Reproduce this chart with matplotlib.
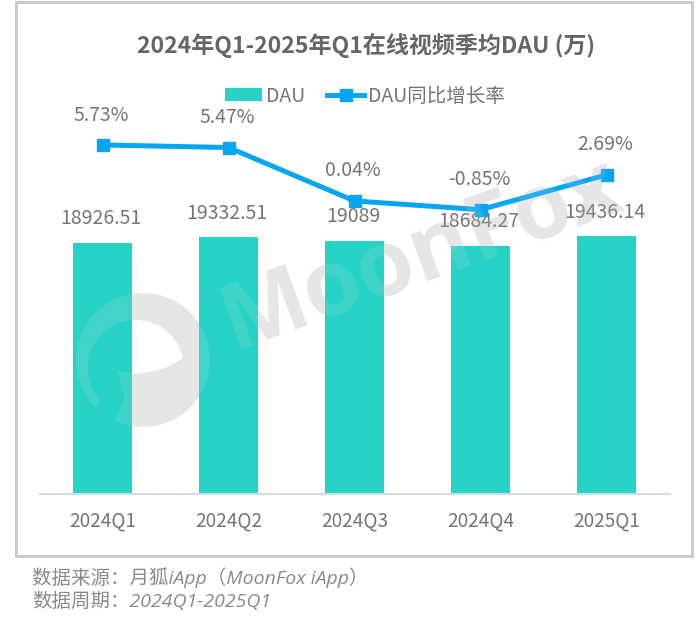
import matplotlib
matplotlib.use("Agg")
import matplotlib.pyplot as plt
import numpy as np
from matplotlib.patches import Rectangle, Polygon

plt.rcParams['font.family'] = ['Noto Sans CJK SC', 'DejaVu Sans']

categories = ['2024Q1', '2024Q2', '2024Q3', '2024Q4', '2025Q1']
dau = [18926.51, 19332.51, 19089, 18684.27, 19436.14]
dau_labels = ['18926.51', '19332.51', '19089', '18684.27', '19436.14']
growth = [5.73, 5.47, 0.04, -0.85, 2.69]
growth_labels = ['5.73%', '5.47%', '0.04%', '-0.85%', '2.69%']

W, H = 700, 624
fig = plt.figure(figsize=(W / 100, H / 100), dpi=100, facecolor='white')

def fx(x): return x / W
def fy(y): return 1 - y / H

GREY = '#e8e8e8'
frame = Rectangle((fx(16), fy(556)), 676 / W, 554 / H, transform=fig.transFigure,
                  fc='white', ec='#cccccc', lw=2.2, zorder=0)
fig.patches.append(frame)

# watermark logo outline (pixel space, y down)
t_out = np.radians(np.linspace(114.5, -226, 90))
t_in = np.radians(np.linspace(-221, -12, 60))
outer = np.c_[143 + 67 * np.cos(t_out), 360 + 67 * np.sin(t_out)]
inner = np.c_[136 + 48 * np.cos(t_in), 368 + 48 * np.sin(t_in)]
lower = np.array([[168, 367], [150, 372], [135, 374], [117, 370], [125, 398]])
tail = np.array([[112, 428]])
logo = np.vstack([tail, outer, inner, lower])


def watermark(axes, color, alpha, z):
    axes.set_xlim(0, W); axes.set_ylim(H, 0); axes.axis('off')
    axes.add_patch(Polygon(logo, fc=color, ec='none', alpha=alpha, zorder=z))
    axes.text(422, 255, 'MoonFox', fontsize=66, fontweight='bold', color=color, alpha=alpha, rotation=20,
              rotation_mode='anchor', ha='center', va='center', family='Open Sans', zorder=z)


bg = fig.add_axes([0, 0, 1, 1], zorder=1)
watermark(bg, GREY, 1, 1)

ax = fig.add_axes([39.5 / W, 1 - 493.5 / H, 630 / W, 393.5 / H], zorder=2)
ax.patch.set_alpha(0)
xs = list(range(len(categories)))
ax.bar(xs, dau, width=0.468, color='#26d3c6', label='DAU', zorder=2)
ax.set_xlim(-0.5, 4.5)
ax.set_ylim(0, 29700)
ax.set_yticks([])
ax.set_xticks(xs)
ax.set_xticklabels(categories, fontsize=13.7, color='#757575')
ax.tick_params(axis='x', length=0, pad=12)
for s in ['top', 'left', 'right']:
    ax.spines[s].set_visible(False)
ax.spines['bottom'].set_color('#cfdcec')
ax.spines['bottom'].set_linewidth(1.5)

ax2 = ax.twinx()
ax2.patch.set_alpha(0)
ax2.plot(xs, growth, color='#08a5f2', lw=3.6, marker='s', ms=8, label='DAU同比增长率', zorder=3)
ax2.set_ylim(-29.7, 10.3)
ax2.set_yticks([])
for s in ax2.spines.values():
    s.set_visible(False)

for x, v, t in zip(xs, dau, dau_labels):
    ax.annotate(t, (x, v), xytext=(-1, 9.7), textcoords='offset points', ha='center', va='bottom',
                fontsize=14, color='#757575', zorder=5)
for x, v, t in zip(xs, growth, growth_labels):
    ax2.annotate(t, (x, v), xytext=(-1, 14), textcoords='offset points', ha='center', va='bottom',
                 fontsize=14, color='#757575', zorder=5)

# faint watermark veil over the bars
top = fig.add_axes([0, 0, 1, 1], zorder=3)
top.patch.set_alpha(0)
watermark(top, '#dddddd', 0.15, 1)

fig.text(fx(366), fy(45), '2024年Q1-2025年Q1在线视频季均DAU (万)', fontsize=16.6, fontweight='bold',
         color='#666666', ha='center', va='center', zorder=5)

h1, l1 = ax.get_legend_handles_labels()
h2, l2 = ax2.get_legend_handles_labels()
fig.legend(h1 + h2, l1 + l2, loc='center', bbox_to_anchor=(fx(365), fy(96)), ncol=2, frameon=False,
           fontsize=14, labelcolor='#757575', handlelength=1.9, handleheight=0.6,
           columnspacing=1.15, handletextpad=0.2)

foot = ['Open Sans', 'Noto Sans CJK SC', 'DejaVu Sans']
fig.text(fx(32), fy(578), '数据来源：月狐iApp（MoonFox iApp）', fontsize=14, style='italic',
         color='#8a8a8a', ha='left', va='center', family=foot)
fig.text(fx(32), fy(601), '数据周期：2024Q1-2025Q1', fontsize=14, style='italic',
         color='#8a8a8a', ha='left', va='center', family=foot)

fig.savefig('out.png', dpi=100, facecolor='white')
